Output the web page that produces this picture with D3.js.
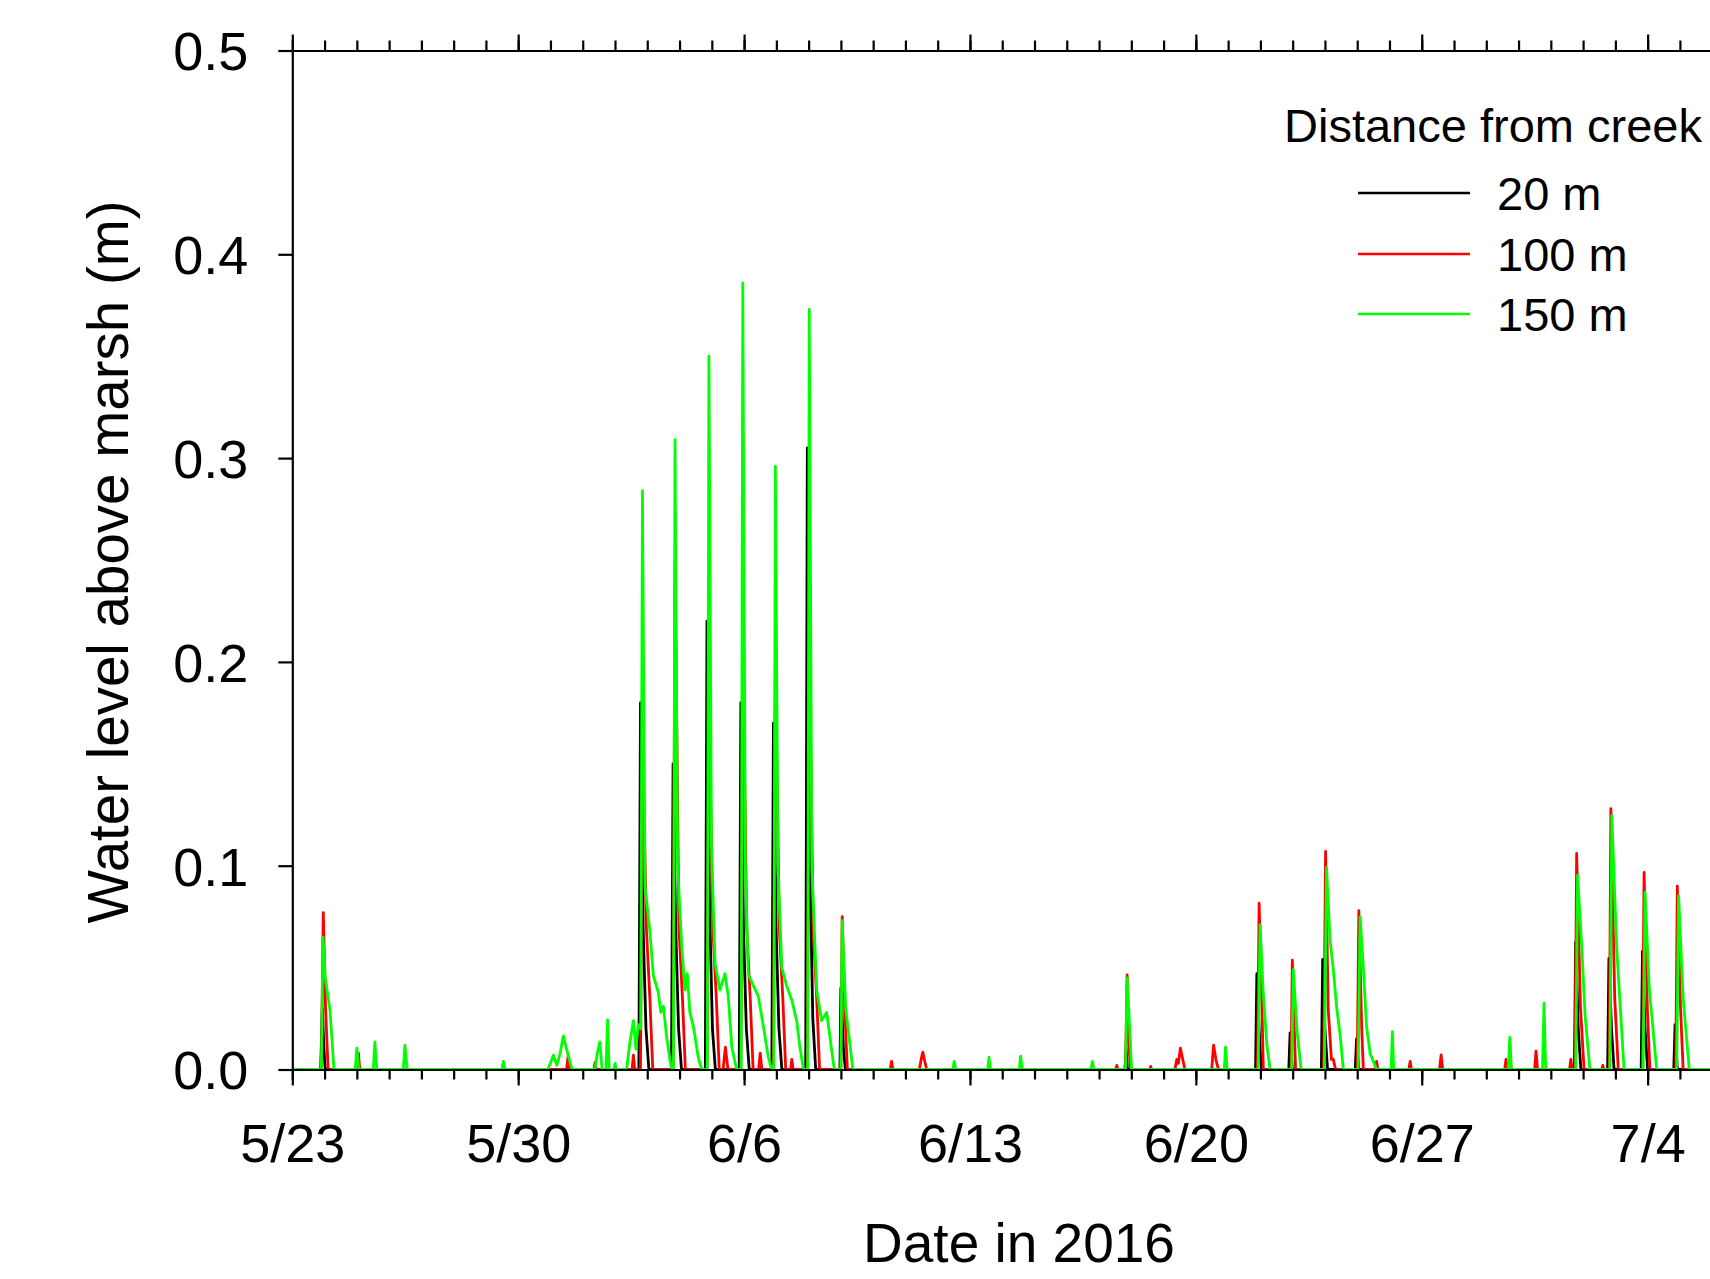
<!DOCTYPE html>
<html>
<head>
<meta charset="utf-8">
<script src="https://cdn.jsdelivr.net/npm/d3@7"></script>
<style>
  html, body { margin: 0; padding: 0; background: #fff; overflow: hidden; }
  svg { display: block; }
  text { font-family: "Liberation Sans", Arial, Helvetica, sans-serif; fill: #000; }
</style>
</head>
<body>
<svg id="chart" width="1710" height="1279"></svg>
<script>
// ---------------- DATA (day offset from 5/23/2016 00:00, water level m) ----------------
const seriesNames = ["20 m", "100 m", "150 m"];
const seriesColors = ["#000000", "#ff0000", "#00ff00"];
const legendTitle = "Distance from creek";
const xTitle = "Date in 2016";
const yTitle = "Water level above marsh (m)";
const xTickLabels = ["5/23", "5/30", "6/6", "6/13", "6/20", "6/27", "7/4"];
const yTickValues = [0.0, 0.1, 0.2, 0.3, 0.4, 0.5];

const black20 = [
  [0,0],[0.88,0],[0.93,0.03],[0.98,0.01],[1.02,0],
  [10.74,0],[10.79,0.18],[10.87,0.07],[10.96,0.02],[11.05,0],
  [11.75,0],[11.8,0.15],[11.88,0.07],[11.97,0.02],[12.06,0],
  [12.8,0],[12.85,0.22],[12.93,0.08],[13.02,0.02],[13.11,0],
  [13.85,0],[13.9,0.18],[13.98,0.07],[14.07,0.02],[14.16,0],
  [14.86,0],[14.91,0.17],[14.99,0.07],[15.08,0.02],[15.17,0],
  [15.91,0],[15.96,0.305],[16.04,0.1],[16.13,0.025],[16.22,0],
  [16.97,0],[17.0,0.04],[17.08,0.01],[17.14,0],
  [25.8,0],[25.84,0.01],[25.88,0],
  [29.85,0],[29.89,0.047],[29.96,0.02],[30.03,0],
  [30.88,0],[30.92,0.018],[30.99,0],
  [31.89,0],[31.93,0.054],[32.0,0.02],[32.08,0],
  [32.94,0],[32.98,0.015],[33.05,0],
  [39.73,0],[39.77,0.0625],[39.85,0.02],[39.93,0],
  [40.76,0],[40.8,0.0545],[40.88,0.02],[40.96,0],
  [41.8,0],[41.84,0.058],[41.92,0.02],[42.0,0],
  [42.81,0],[42.85,0.022],[42.92,0],
  [49,0]
];

const red100 = [
  [0,0],[0.9,0],[0.96,0.077],[1.03,0.03],[1.11,0],
  [2.02,0],[2.05,0.008],[2.09,0],
  [6.51,0],[6.54,0.003],[6.57,0],
  [8.5,0],[8.55,0.007],[8.6,0],
  [9.35,0],[9.38,0.0035],[9.42,0],
  [10.53,0],[10.57,0.007],[10.61,0],
  [10.79,0],[10.85,0.168],[10.97,0.07],[11.08,0.035],[11.17,0],
  [11.8,0],[11.86,0.25],[11.98,0.07],[12.09,0.035],[12.18,0],
  [12.85,0],[12.91,0.185],[13.03,0.07],[13.14,0.035],[13.23,0],
  [13.35,0],[13.42,0.011],[13.5,0],
  [13.9,0],[13.96,0.21],[14.08,0.07],[14.19,0.035],[14.28,0],
  [14.45,0],[14.5,0.008],[14.55,0],
  [14.91,0],[14.97,0.2],[15.09,0.07],[15.2,0.035],[15.29,0],
  [15.44,0],[15.48,0.005],[15.52,0],
  [15.96,0],[16.02,0.21],[16.14,0.07],[16.25,0.035],[16.34,0],
  [17.0,0],[17.04,0.075],[17.12,0.03],[17.2,0],
  [18.53,0],[18.57,0.004],[18.61,0],
  [19.43,0],[19.5,0.006],[19.54,0.0085],[19.6,0.004],[19.66,0],
  [25.52,0],[25.55,0.002],[25.58,0],
  [25.82,0],[25.87,0.0464],[25.93,0.01],[25.98,0],
  [26.57,0],[26.6,0.0015],[26.63,0],
  [27.35,0],[27.41,0.005],[27.46,0.003],[27.52,0.0105],[27.58,0.006],[27.66,0],
  [28.49,0],[28.55,0.012],[28.62,0.005],[28.7,0],
  [29.91,0],[29.96,0.0816],[30.04,0.037],[30.09,0],
  [30.95,0],[30.99,0.0537],[31.04,0.025],[31.09,0],
  [31.96,0],[32.02,0.107],[32.1,0.03],[32.2,0.005],[32.26,0.005],[32.33,0],
  [33.0,0],[33.05,0.078],[33.14,0.02],[33.19,0],
  [33.56,0],[33.6,0.004],[33.64,0],
  [34.6,0],[34.64,0.004],[34.68,0],
  [35.55,0],[35.6,0.0072],[35.65,0],
  [37.57,0],[37.61,0.005],[37.65,0],
  [38.5,0],[38.54,0.009],[38.59,0],
  [39.58,0],[39.62,0.005],[39.66,0],
  [39.75,0],[39.8,0.106],[39.92,0.03],[40.03,0],
  [40.58,0],[40.61,0.002],[40.64,0],
  [40.81,0],[40.86,0.128],[40.98,0.035],[41.09,0],
  [41.84,0],[41.89,0.0967],[41.99,0.03],[42.07,0],
  [42.87,0],[42.92,0.09],[43.02,0.03],[43.1,0],
  [49,0]
];

const green150 = [
  [0,0],[0.9,0],[0.95,0.065],[1.02,0.045],[1.17,0.029],[1.29,0],
  [1.95,0],[2.0,0.0105],[2.06,0],
  [2.51,0],[2.56,0.0135],[2.62,0],
  [3.44,0],[3.49,0.012],[3.56,0],
  [6.5,0],[6.54,0.004],[6.58,0],
  [7.92,0],[8.02,0.004],[8.09,0.007],[8.2,0.002],[8.3,0.008],[8.4,0.0165],[8.5,0.01],[8.6,0.004],[8.67,0],
  [9.38,0],[9.45,0.008],[9.53,0.0135],[9.6,0],
  [9.72,0],[9.77,0.0243],[9.82,0],
  [9.97,0],[10.0,0.003],[10.03,0],
  [10.36,0],[10.45,0.012],[10.57,0.024],[10.65,0.01],[10.72,0.022],[10.8,0.02],
  [10.85,0.284],[10.93,0.09],[11.08,0.068],[11.19,0.046],[11.34,0.038],[11.42,0.028],[11.5,0.031],[11.6,0.016],[11.7,0.005],[11.76,0],
  [11.81,0],[11.86,0.309],[11.94,0.1],[12.07,0.06],[12.17,0.039],[12.24,0.047],[12.32,0.028],[12.43,0.021],[12.58,0.006],[12.69,0],
  [12.86,0],[12.91,0.35],[12.99,0.11],[13.1,0.052],[13.25,0.039],[13.41,0.047],[13.51,0.036],[13.62,0.011],[13.77,0],
  [13.91,0],[13.96,0.386],[14.04,0.1],[14.13,0.047],[14.29,0.041],[14.44,0.036],[14.6,0.021],[14.75,0.006],[14.86,0],
  [14.92,0],[14.97,0.296],[15.05,0.1],[15.17,0.05],[15.32,0.041],[15.48,0.034],[15.63,0.024],[15.73,0.011],[15.84,0],
  [15.97,0],[16.02,0.373],[16.1,0.1],[16.25,0.039],[16.4,0.024],[16.56,0.028],[16.66,0.016],[16.76,0.004],[16.8,0],
  [17.0,0],[17.04,0.073],[17.15,0.03],[17.37,0],
  [20.47,0],[20.51,0.004],[20.56,0],
  [21.55,0],[21.59,0.006],[21.63,0],
  [22.53,0],[22.57,0.0065],[22.62,0],
  [24.75,0],[24.79,0.004],[24.84,0],
  [25.82,0],[25.87,0.045],[25.95,0.02],[26.01,0],
  [28.88,0],[28.92,0.011],[28.97,0],
  [29.93,0],[29.99,0.071],[30.09,0.037],[30.2,0.012],[30.3,0],
  [30.97,0],[31.02,0.049],[31.13,0.02],[31.26,0],
  [31.98,0],[32.05,0.099],[32.16,0.063],[32.26,0.049],[32.36,0.031],[32.47,0.017],[32.57,0],
  [33.03,0],[33.09,0.075],[33.19,0.05],[33.29,0.021],[33.4,0.008],[33.6,0],
  [34.05,0],[34.09,0.0186],[34.13,0],
  [37.68,0],[37.73,0.0157],[37.78,0],
  [38.74,0],[38.79,0.0325],[38.84,0],
  [39.77,0],[39.83,0.0954],[39.96,0.06],[40.06,0.027],[40.21,0],
  [40.83,0],[40.89,0.1245],[41.04,0.06],[41.27,0],
  [41.86,0],[41.92,0.087],[42.05,0.04],[42.28,0],
  [42.9,0],[42.96,0.0853],[43.1,0.035],[43.29,0],
  [49,0]
];

// ---------------- CHART ----------------
(function () {
  const svg = d3.select("#chart");
  const start = Date.UTC(2016, 4, 23);
  const toDate = d => new Date(start + d * 864e5);
  const endDays = 49;

  const plotLeft = 292.3, pxPerDay = 32.27, plotTop = 50.5, plotBottom = 1069.5;
  const x = d3.scaleUtc().domain([toDate(0), toDate(endDays)]).range([plotLeft, plotLeft + pxPerDay * endDays]);
  const y = d3.scaleLinear().domain([0, 0.5]).range([plotBottom, plotTop]);

  const line = d3.line().x(d => x(toDate(d[0]))).y(d => y(d[1]));

  const allSeries = [black20, red100, green150];
  const gData = svg.append("g");
  allSeries.forEach((s, i) => {
    gData.append("path").datum(s)
      .attr("d", line)
      .attr("fill", "none")
      .attr("stroke", seriesColors[i])
      .attr("stroke-width", 2.8)
      .attr("stroke-linejoin", "round");
  });

  const dayTicks = d3.range(0, endDays + 1).map(toDate);
  const weekTicks = xTickLabels.map((_, i) => toDate(i * 7)).concat([toDate(49)]);

  function styleAxis(g) {
    g.selectAll("path, line").attr("stroke", "#000").attr("stroke-width", 2.2);
  }

  // bottom axis: minor + major
  const gB = svg.append("g").attr("transform", `translate(0,${plotBottom})`);
  gB.append("g").call(d3.axisBottom(x).tickValues(dayTicks).tickSize(10).tickSizeOuter(0).tickFormat(""))
    .call(styleAxis);
  const gBM = gB.append("g").call(d3.axisBottom(x).tickValues(weekTicks).tickSize(16).tickSizeOuter(0)
    .tickFormat((d, i) => xTickLabels[i] || ""))
    .call(styleAxis);
  gBM.select(".domain").remove();
  gBM.selectAll("text").attr("y", 92.5).attr("dy", 0)
    .attr("font-size", 54).attr("font-family", "Liberation Sans, Arial, sans-serif").attr("fill", "#000");

  // top axis
  const gT = svg.append("g").attr("transform", `translate(0,${plotTop})`);
  gT.append("g").call(d3.axisTop(x).tickValues(dayTicks).tickSize(10).tickSizeOuter(0).tickFormat(""))
    .call(styleAxis);
  const gTM = gT.append("g").call(d3.axisTop(x).tickValues(weekTicks).tickSize(16).tickSizeOuter(0).tickFormat(""))
    .call(styleAxis);
  gTM.select(".domain").remove();

  // left axis
  const gL = svg.append("g").attr("transform", `translate(${plotLeft},0)`);
  gL.call(d3.axisLeft(y).tickValues(yTickValues).tickSize(14).tickSizeOuter(0).tickFormat(d3.format(".1f")))
    .call(styleAxis);
  gL.selectAll("text").attr("x", -44).attr("dy", "0.36em")
    .attr("font-size", 54).attr("font-family", "Liberation Sans, Arial, sans-serif").attr("fill", "#000");

  // titles
  svg.append("text").attr("x", 1019).attr("y", 1262).attr("text-anchor", "middle")
    .attr("font-size", 55).text(xTitle);
  svg.append("text").attr("transform", "translate(128,562) rotate(-90)").attr("text-anchor", "middle")
    .attr("font-size", 56.5).text(yTitle);

  // legend
  const lg = svg.append("g");
  lg.append("text").attr("x", 1284).attr("y", 142).attr("font-size", 47).text(legendTitle);
  const legY = [193, 254, 314];
  seriesNames.forEach((n, i) => {
    lg.append("line").attr("x1", 1358).attr("x2", 1470).attr("y1", legY[i]).attr("y2", legY[i])
      .attr("stroke", seriesColors[i]).attr("stroke-width", 2.6);
    lg.append("text").attr("x", 1497).attr("y", legY[i] + 17).attr("font-size", 47).text(n);
  });
})();
</script>
</body>
</html>
